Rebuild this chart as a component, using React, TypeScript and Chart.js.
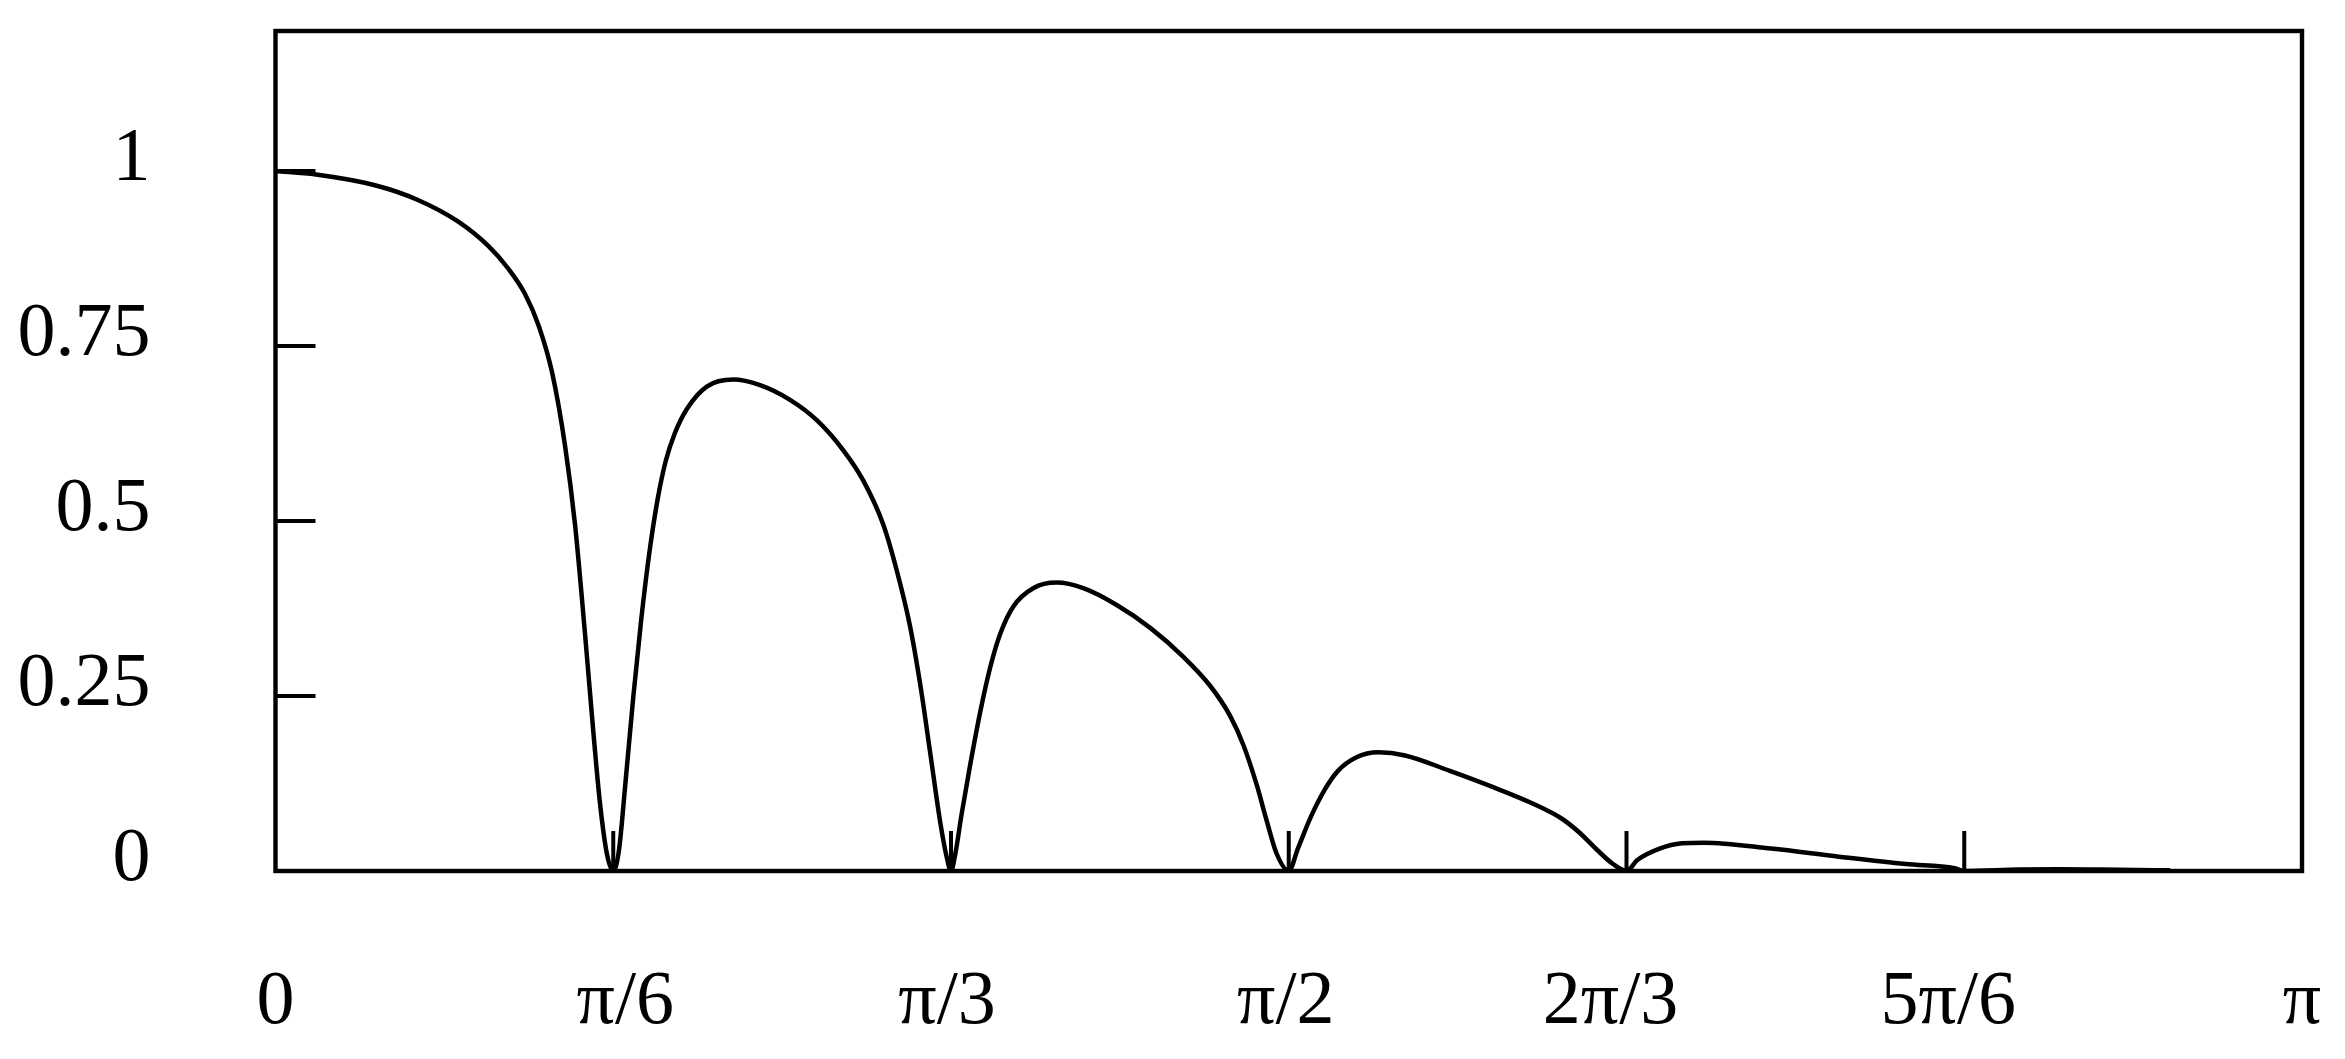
import React, { useEffect, useRef } from "react";
import { Chart, registerables } from "chart.js";

Chart.register(...registerables);

// x positions in units of π, amplitude values
const xPi: number[] = [
  0, 0.02, 0.05, 0.07, 0.09, 0.105, 0.115, 0.123, 0.13, 0.1365, 0.1429, 0.1478, 0.1527, 0.1568, 0.16, 0.1635, 0.1667,
  0.1695, 0.1725, 0.1766, 0.1805, 0.1845, 0.1885, 0.1925, 0.197, 0.203, 0.2128, 0.2259, 0.2391, 0.2539, 0.2671, 0.2802, 0.29, 0.2999, 0.3065, 0.3131, 0.3185, 0.3235, 0.328, 0.3312, 0.3333,
  0.3355, 0.3385, 0.3427, 0.3476, 0.3526, 0.3575, 0.3641, 0.3739, 0.3855, 0.3986, 0.4151, 0.4318, 0.448, 0.4611, 0.471, 0.4776, 0.4842, 0.4891, 0.494, 0.5,
  0.5045, 0.511, 0.5177, 0.5243, 0.5332, 0.5442, 0.5574, 0.5795, 0.6015, 0.6214, 0.6346, 0.6434, 0.6522, 0.66, 0.6667,
  0.672, 0.683, 0.694, 0.705, 0.738, 0.7715, 0.8045, 0.8286, 0.8333,
  0.86, 0.88, 0.9, 0.935,
];
const amplitude: number[] = [
  1.0, 0.995, 0.979, 0.959, 0.928, 0.893, 0.86, 0.825, 0.778, 0.712, 0.607, 0.495, 0.34, 0.2, 0.1, 0.025, 0,
  0.03, 0.12, 0.25, 0.36, 0.455, 0.53, 0.585, 0.625, 0.66, 0.692, 0.702, 0.694, 0.673, 0.644, 0.601, 0.558, 0.495, 0.43, 0.35, 0.26, 0.16, 0.07, 0.02, 0,
  0.025, 0.08, 0.15, 0.225, 0.29, 0.338, 0.378, 0.404, 0.412, 0.404, 0.38, 0.347, 0.306, 0.265, 0.222, 0.18, 0.123, 0.072, 0.025, 0,
  0.032, 0.078, 0.116, 0.143, 0.162, 0.1695, 0.165, 0.143, 0.119, 0.095, 0.075, 0.055, 0.03, 0.01, 0,
  0.0157, 0.032, 0.0396, 0.0405, 0.032, 0.0205, 0.01, 0.004, 0,
  0.002, 0.0025, 0.002, 0.001,
];

const xTickValues: number[] = [0, 1 / 6, 2 / 6, 3 / 6, 4 / 6, 5 / 6, 1];
const xTickLabels: string[] = ["0", "π/6", "π/3", "π/2", "2π/3", "5π/6", "π"];
const yTickValues: number[] = [0, 0.25, 0.5, 0.75, 1];
const yTickLabels: string[] = ["0", "0.25", "0.5", "0.75", "1"];

// small horizontal nudges of the x tick labels (style, px)
const X_LABEL_NUDGE = [0, 12, -4, -3, -16, -16, 0];

const FONT = { family: "'Liberation Serif', 'Times New Roman', serif", size: 76 };

const framePlugin = {
  id: "frameTicks",
  beforeDraw(chart: any) {
    const sx = chart.scales.x;
    if (!sx || !sx.getLabelItems) return;
    const items = sx.getLabelItems(chart.chartArea);
    items.forEach((it: any, i: number) => {
      if (it._nudged) return;
      it._nudged = true;
      if (it.options && it.options.translation) {
        it.options.translation[0] += X_LABEL_NUDGE[i] || 0;
      }
    });
  },
  afterDatasetsDraw(chart: any) {
    const { ctx, chartArea, scales } = chart;
    const { left, right, top, bottom } = chartArea;
    ctx.save();
    ctx.strokeStyle = "#000";
    ctx.lineWidth = 4;
    ctx.lineCap = "butt";
    ctx.beginPath();
    yTickValues.forEach((v) => {
      if (v === 0) return;
      const y = scales.y.getPixelForValue(v);
      ctx.moveTo(left, y);
      ctx.lineTo(left + 40, y);
    });
    xTickValues.forEach((v) => {
      if (v === 0 || v === 1) return;
      const x = scales.x.getPixelForValue(v);
      ctx.moveTo(x, bottom);
      ctx.lineTo(x, bottom - 40);
    });
    ctx.stroke();
    ctx.lineWidth = 4.4;
    ctx.strokeRect(left, top, right - left, bottom - top);
    ctx.restore();
  },
};

export default function App() {
  const ref = useRef<HTMLCanvasElement | null>(null);
  useEffect(() => {
    if (!ref.current) return;
    const chart = new Chart(ref.current, {
      type: "line",
      data: {
        datasets: [
          {
            data: xPi.map((x, i) => ({ x, y: amplitude[i] })),
            borderColor: "#000",
            borderWidth: 4.5,
            pointRadius: 0,
            cubicInterpolationMode: "monotone",
            fill: false,
          },
        ],
      },
      options: {
        animation: false,
        responsive: false,
        devicePixelRatio: 1,
        parsing: false,
        layout: { padding: { top: 31, right: 43, left: 0, bottom: 0 } },
        plugins: { legend: { display: false }, tooltip: { enabled: false } },
        scales: {
          x: {
            type: "linear",
            min: 0,
            max: 1,
            grid: { display: false, drawTicks: false },
            border: { display: false },
            afterBuildTicks: (s: any) => {
              s.ticks = xTickValues.map((value) => ({ value }));
            },
            afterFit: (s: any) => {
              s.height = 188;
              s.paddingLeft = 0;
              s.paddingRight = 0;
              s.paddingTop = 0;
              s.paddingBottom = 0;
            },
            ticks: {
              autoSkip: false,
              maxRotation: 0,
              minRotation: 0,
              padding: 86,
              color: "#000",
              font: FONT,
              callback: (_v: any, i: number) => xTickLabels[i],
            },
          },
          y: {
            type: "linear",
            min: 0,
            max: 1.2,
            grid: { display: false, drawTicks: false },
            border: { display: false },
            afterBuildTicks: (s: any) => {
              s.ticks = yTickValues.map((value) => ({ value }));
            },
            afterFit: (s: any) => {
              s.width = 275.5;
              s.paddingLeft = 0;
              s.paddingRight = 0;
              s.paddingTop = 0;
              s.paddingBottom = 0;
            },
            ticks: {
              padding: 125,
              labelOffset: -10.5,
              color: "#000",
              font: FONT,
              callback: (_v: any, i: number) => yTickLabels[i],
            },
          },
        },
      },
      plugins: [framePlugin],
    } as any);
    return () => chart.destroy();
  }, []);
  return (
    <div style={{ position: "fixed", left: 0, top: 0, width: 2345, height: 1059, background: "#fff" }}>
      <canvas ref={ref} width={2345} height={1059} style={{ display: "block" }} />
    </div>
  );
}
